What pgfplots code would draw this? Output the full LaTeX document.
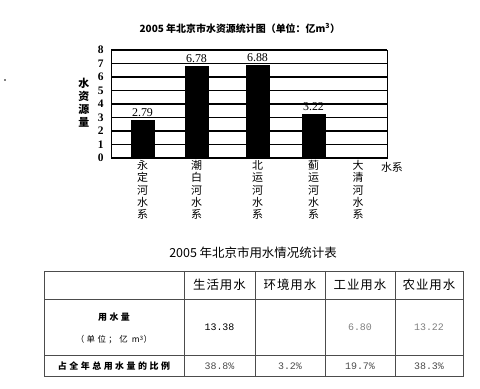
\documentclass[border=0pt]{standalone}
\usepackage{fontspec}
\usepackage{pgfplots}
\pgfplotsset{compat=1.18}
\setmainfont{Liberation Serif}
\newfontfamily\cjk{Noto Sans CJK SC}
\newfontfamily\cjkls[LetterSpace=28]{Noto Sans CJK SC}
\newfontfamily\cjkhd[LetterSpace=8]{Noto Sans CJK SC}
\newfontfamily\monof{Liberation Mono}
\definecolor{lgray}{gray}{0.5}
\definecolor{dgray}{gray}{0.3}
\begin{document}
\begin{tikzpicture}
\useasboundingbox (0,0) rectangle (480bp,389bp);
\begin{axis}[
  at={(111bp,231bp)}, anchor=south west,
  width=276bp, height=108bp, scale only axis,
  xmin=111, xmax=387, ymin=0, ymax=8,
  ybar, bar width=23,
  axis line style={black, line width=0.9pt},
  ytick={0,1,...,8},
  ymajorgrids, grid style={black, line width=1.4pt},
  major tick length=0pt,
  /pgf/number format/assume math mode=true,
  yticklabel style={font=\bfseries\fontsize{11.5}{12}\selectfont, xshift=-4bp},
  xtick={142.5,196.5,257.5,313.5,358},
  xticklabels={{永\\定\\河\\水\\系},{潮\\白\\河\\水\\系},{北\\运\\河\\水\\系},{蓟\\运\\河\\水\\系},{大\\清\\河\\水\\系}},
  xticklabel style={font=\cjk\fontsize{11}{12.3}\selectfont, align=center, anchor=north, yshift=1bp},
  ylabel={水\\资\\源\\量},
  ylabel style={font=\cjk\bfseries\fontsize{11}{13}\selectfont, align=center, rotate=-90, at={(axis description cs:-0.098,0.51)}, anchor=center},
  xlabel={水系},
  xlabel style={font=\cjk\fontsize{11}{12}\selectfont, at={(axis description cs:1.018,-0.083)}, anchor=center},
  title={2005 年北京市水资源统计图（单位：亿m\textsuperscript{3}）},
  title style={font=\cjk\bfseries\fontsize{10}{12}\selectfont, at={(axis description cs:0.467,1)}, anchor=south, yshift=7bp},
  nodes near coords,
  nodes near coords style={font=\fontsize{12}{12}\selectfont, inner sep=0.5bp, anchor=south, yshift=3bp, /pgf/number format/fixed, /pgf/number format/precision=2, /pgf/number format/fixed zerofill},
]
\addplot[fill=black, draw=black] coordinates {(142.5,2.79) (196.5,6.78) (257.5,6.88) (313.5,3.22)};
\end{axis}
\begin{scope}[x=1bp,y=-1bp,shift={(0bp,389bp)}]
\fill (5,80) circle (0.8);
\node[font=\cjk\fontsize{12.5}{14}\selectfont] at (253,253) {2005 年北京市用水情况统计表};
\draw[line width=0.8bp, dgray] (44,271) rectangle (463,376);
\draw[line width=0.8bp, dgray] (44,299) -- (463,299) (44,355) -- (463,355);
\foreach \xx in {184,255,325,395} \draw[line width=0.8bp, dgray] (\xx,271) -- (\xx,376);
\node[font=\cjkhd\fontsize{12.5}{14}\selectfont] at (219.5,285) {生活用水};
\node[font=\cjkhd\fontsize{12.5}{14}\selectfont] at (290,285) {环境用水};
\node[font=\cjkhd\fontsize{12.5}{14}\selectfont] at (360,285) {工业用水};
\node[font=\cjkhd\fontsize{12.5}{14}\selectfont] at (429,285) {农业用水};
\node[font=\cjkls\bfseries\fontsize{9}{11}\selectfont] at (114,317) {用水量};
\node[font=\cjkls\fontsize{8.5}{11}\selectfont] at (114,340) {（单位；亿 m\textsuperscript{3}）};
\node[font=\cjkls\bfseries\fontsize{9}{11}\selectfont] at (114,366) {占全年总用水量的比例};
\node[font=\monof\fontsize{10}{11}\selectfont] at (219.5,327) {13.38};
\node[font=\monof\fontsize{10}{11}\selectfont, lgray] at (360,327) {6.80};
\node[font=\monof\fontsize{10}{11}\selectfont, lgray] at (429,327) {13.22};
\node[font=\monof\fontsize{10}{11}\selectfont, dgray] at (219.5,366) {38.8\%};
\node[font=\monof\fontsize{10}{11}\selectfont, dgray] at (290,366) {3.2\%};
\node[font=\monof\fontsize{10}{11}\selectfont, dgray] at (360,366) {19.7\%};
\node[font=\monof\fontsize{10}{11}\selectfont, dgray] at (429,366) {38.3\%};
\end{scope}
\end{tikzpicture}
\end{document}
